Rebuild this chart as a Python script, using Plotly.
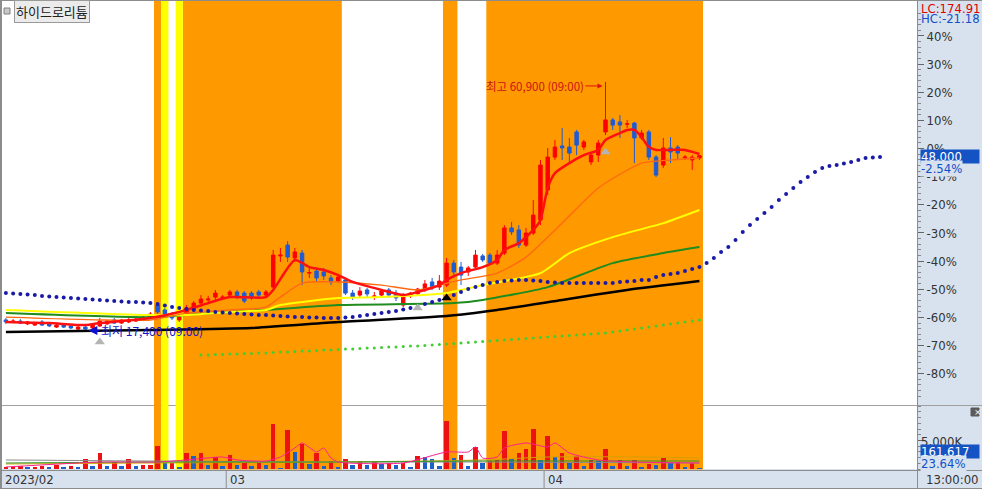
import plotly.graph_objects as go

W, H = 982, 489
def py(px):
    return 1 - px / H
def pxx(px):
    return px / W

BASE_PRICE = 49250  # price at 0%

# ---------------- data ----------------
bar_idx = list(range(97))
open_ = [19250,18900,19050,18550,18350,18900,18550,18000,18350,18200,17650,18000,17850,18200,18550,19250,18700,18900,19050,19250,
         19600,21850,21000,20100,19250,20100,21000,22200,22750,23250,23100,23600,24150,23950,23950,24150,23600,25000,30450,32350,
         30100,30950,27450,27800,27650,26600,26050,26250,23950,23600,24500,23250,23600,24500,23950,21850,23450,23800,24500,25900,
         25000,25350,29200,28500,27650,28500,30450,30600,29200,30950,35350,35000,32350,34450,36750,42000,47750,49700,49500,52150,
         49500,46900,48100,52150,54250,53900,53550,53700,51100,52150,47750,46350,49350,49500,47600,47250,47600]
high = [19600,19400,19400,19050,18900,19250,18900,18550,18700,18350,18200,18200,18350,19600,19250,19600,19400,19950,19600,19950,
        20650,22200,21350,20650,20100,21850,22550,23600,23450,24500,23600,24500,24500,24300,24300,24500,24500,31500,31850,33050,
        31850,31500,28350,28350,28350,27100,27300,26600,24500,25000,24850,24150,24650,24850,24500,23950,24150,24850,26250,26600,
        27100,30100,29750,29400,28700,31500,30800,30950,31500,35850,36400,35850,35350,40250,47250,49350,50750,52850,51100,52500,
        50750,48450,50750,60900,54600,55100,54250,53900,52500,52500,48100,51100,51250,49850,48100,48100,48100]
low = [18550,18700,18550,18350,18200,18200,18000,17850,17850,17650,17500,17400,17650,18000,18350,18550,18550,18700,18900,19050,
       19400,20300,19750,19250,18900,19950,20650,21500,22400,22750,22900,23450,22900,22200,22750,23250,23450,24650,29400,29400,
       29400,25350,26600,25900,26250,25350,25700,23600,22750,23250,23250,22750,23250,23100,22550,21500,23100,23450,24150,24500,
       24500,25000,26600,25350,26950,28350,29400,28850,28850,30600,34100,31850,32000,34100,35850,41100,47250,47250,46900,48100,
       49000,46350,46900,51600,52500,51100,52850,46700,50750,47250,44250,45850,46700,47250,47250,45500,47250]
close = [18900,19050,18700,18900,18700,18350,18200,18350,18000,17850,18000,17650,18350,19050,19050,18700,19250,19250,19400,19750,
         20300,20650,20100,19600,19750,21350,22200,22900,22900,23950,23250,24150,23250,22550,23100,23600,24150,30600,30600,30250,
         31150,27650,27550,26600,26950,25900,26750,23950,23250,24300,23800,23450,24300,23600,23100,23600,23950,24650,25550,24850,
         26050,29200,27650,27100,28350,30600,29750,29200,30600,35350,34650,32350,34450,37600,46350,47750,49500,49350,48450,49850,
         50400,48100,50200,54250,53350,53350,53550,51100,51950,47750,44600,49350,48650,48450,47750,47750,48000]

volume_k = [350,350,520,350,350,520,350,700,350,520,350,1750,520,2800,520,1220,520,1750,520,700,
            700,4020,1050,1050,350,2800,2280,2800,700,2100,520,2450,700,1050,520,1050,700,7880,175,6830,
            2980,4380,880,2800,520,1400,350,1750,700,1400,700,1220,880,1050,700,1050,350,2280,2100,1750,
            520,8400,1920,2450,520,3850,1050,1400,1580,6650,1750,2800,3500,7000,1580,5780,2100,2800,1050,2280,
            520,1580,1400,3500,520,1580,520,1580,350,880,700,1920,1050,1220,350,1050,162]

# moving-average style lines (bar index, price)
red_x = [0,6,11,13,16,20,24,28,31,36,37,40,42,44,46,48,52,55,57,60,61,63,66,68,69,71,73,74,75,76,78,80,82,83,85,86,87,88,89,90,92,94,96]
red_y = [18900,18700,18350,18700,19050,19600,20650,22200,23250,23250,24500,29750,28500,28000,27100,25900,24500,23600,24150,25350,
         26250,27450,28500,29750,31500,32700,35000,36750,42350,44950,46700,48100,49000,50750,51950,52500,52500,51250,49500,49000,
         49000,49000,48300]
orange_x = [0,13,20,25,31,36,38,41,46,52,57,60,63,68,72,77,82,88,92,96]
orange_y = [19750,19250,19250,20450,21000,21500,23250,25700,25900,25350,24500,25350,26250,27450,30250,36200,42350,46700,47250,47600]
yellow_x = [0,20,25,31,36,38,46,52,61,63,66,74,78,84,91,96]
yellow_y = [21000,20100,20100,20650,21000,21850,23100,23250,23950,24500,25350,27450,30950,33750,36200,38500]
green_x = [0,20,31,36,46,62,66,75,84,91,96]
green_y = [20450,19750,20650,21000,21850,22200,22750,25000,29200,30950,32000]
black_x = [0,20,34,46,61,68,77,86,96]
black_y = [17150,17500,17850,18900,19950,21000,22750,24500,26050]

# forward-shifted dotted line (bar index 0..121)
blue_dot_y = [23970,23880,23790,23700,23620,23440,23350,23270,23180,23090,23000,22920,22830,22740,22650,22570,22480,22390,22390,22300,
              22220,22040,21780,21520,21340,21170,20990,20900,20820,20640,20550,20470,20380,20290,20200,20120,20120,20030,19940,19850,
              19770,19770,19680,19680,19590,19590,19590,19680,19770,19940,20120,20290,20470,20640,20820,21080,21340,21520,22040,22390,
              22740,23090,23620,24140,24670,25020,25370,25720,25890,26070,26150,26240,26240,26150,26070,25890,25800,25720,25720,25720,
              25720,25720,25720,25720,25720,25890,25980,26070,26240,26240,26770,27120,27290,27470,27820,28170,28520,29220,30090,31140,
              32020,33240,34640,35870,36920,37970,39020,40240,41290,42340,43390,44270,45140,45840,46190,46370,46630,46890,47240,47590,
              47680,47770]
# light green dotted line (bar index 27..96)
green_dot_start = 27
green_dot_y = [13120,13120,13200,13200,13290,13290,13380,13380,13470,13470,13550,13640,13640,13730,13820,13820,13900,13990,13990,14080,
               14170,14170,14250,14340,14340,14430,14520,14520,14600,14690,14690,14780,14870,14950,15040,15130,15220,15300,15390,15480,
               15570,15650,15740,15830,15920,16000,16090,16180,16270,16350,16440,16530,16620,16700,16790,16880,16970,17140,17320,17490,
               17670,17840,18020,18190,18370,18540,18720,18890,19070,19240]

# volume average lines (bar index, thousand shares)
pink_x = [0,13,21,25,30,32,36,38,40,41,43,44,45,46,55,61,64,65,66,68,69,72,75,76,78,82,87,96]
pink_v = [350,1220,1220,1580,2100,1580,1400,2100,3680,4550,2980,3680,1920,1220,1050,2980,2980,3850,1920,2100,3680,4550,3850,4550,2800,1580,1220,1050]
gray_vx = [0,20,46,66,96]
gray_v = [1580,1400,1220,1220,1050]
gold_vx = [0,20,46,66,75,88,96]
gold_v = [880,1050,1220,1580,2100,2100,1920]
grn_vx = [0,20,46,66,96]
grn_v = [1050,1220,1220,1400,1400]

# highlighted periods (bar index ranges)
orange_bands = [(20.5, 21.5), (24.5, 46.5), (60.5, 62.5), (66.5, 96.5)]
yellow_bands = [(21.5, 22.5), (23.5, 24.5)]

# signal markers
gray_sig_x = [13, 57, 83]
gray_sig_y = [15400, 21350, 48650]
black_sig_x = [61]
black_sig_y = [23100]

pct_ticks = [40, 30, 20, 10, 0, -10, -20, -30, -40, -50, -60, -70, -80]
month_labels = ["2023/02", "03", "04"]
month_starts = [None, 30.5, 74.5]

# ---------------- figure ----------------
NARROW = "Liberation Sans Narrow, Arial Narrow, DejaVu Sans Condensed, sans-serif"
KR = "Noto Sans CJK KR, sans-serif"
RED = "#ff0000"
BLUE = "#1f5bd5"

fig = go.Figure()

fig.add_trace(go.Candlestick(
    x=bar_idx, open=open_, high=high, low=low, close=close,
    increasing=dict(line=dict(color=RED, width=1), fillcolor=RED),
    decreasing=dict(line=dict(color=BLUE, width=1), fillcolor=BLUE),
    whiskerwidth=0, showlegend=False, hoverinfo="skip", xaxis="x", yaxis="y"))

def line(xs, ys, color, width, yaxis="y"):
    fig.add_trace(go.Scatter(x=xs, y=ys, mode="lines", line=dict(color=color, width=width, shape="spline", smoothing=0.6),
                             showlegend=False, hoverinfo="skip", xaxis="x", yaxis=yaxis))

line(black_x, black_y, "#000000", 2.5)
line(green_x, green_y, "#1e8c1e", 2)
line(yellow_x, yellow_y, "#ffff00", 2)
line(orange_x, orange_y, "#ff6a10", 1.4)
line(red_x, red_y, "#ff1010", 2.5)

fig.add_trace(go.Scatter(x=list(range(len(blue_dot_y))), y=blue_dot_y, mode="markers",
                         marker=dict(color="#1a1aa8", size=4), showlegend=False, hoverinfo="skip"))
fig.add_trace(go.Scatter(x=list(range(green_dot_start, green_dot_start + len(green_dot_y))), y=green_dot_y,
                         mode="markers", marker=dict(color="#44cc33", size=3), showlegend=False, hoverinfo="skip"))

fig.add_trace(go.Scatter(x=gray_sig_x, y=gray_sig_y, mode="markers",
                         marker=dict(symbol="triangle-up", size=9, color="#b4b4b4"), showlegend=False, hoverinfo="skip"))
fig.add_trace(go.Scatter(x=black_sig_x, y=black_sig_y, mode="markers",
                         marker=dict(symbol="triangle-up", size=9, color="#000000"), showlegend=False, hoverinfo="skip"))

# volume
vol_colors = []
for i, v in enumerate(volume_k):
    up = i == 0 or v >= volume_k[i - 1]
    vol_colors.append("#ee1111" if up else "#1f5fc8")
fig.add_trace(go.Bar(x=bar_idx, y=volume_k, marker=dict(color=vol_colors, line=dict(width=0)), width=0.62,
                     showlegend=False, hoverinfo="skip", xaxis="x", yaxis="y2"))
line(gray_vx, gray_v, "#8a8a8a", 1, "y2")
line(gold_vx, gold_v, "#d2a000", 1, "y2")
line(grn_vx, grn_v, "#2e9a2e", 1, "y2")
line(pink_x, pink_v, "#ff2090", 1, "y2")

# ---------------- layout ----------------
shapes = []
shapes.append(dict(type="line", xref="paper", yref="paper", x0=0, x1=pxx(917), y0=py(405.5), y1=py(405.5),
                   line=dict(color="#a0a0a0", width=1), layer="below"))
for a, b in orange_bands:
    shapes.append(dict(type="rect", xref="x", yref="paper", x0=a, x1=b, y0=py(469.5), y1=py(1),
                       fillcolor="#ff9900", line=dict(width=0), layer="below"))
for a, b in yellow_bands:
    shapes.append(dict(type="rect", xref="x", yref="paper", x0=a, x1=b, y0=py(469.5), y1=py(1),
                       fillcolor="#ffff00", line=dict(width=0), layer="below"))
gray = "#8c8c8c"
shapes += [
    dict(type="line", xref="paper", yref="paper", x0=0, x1=1, y0=py(0.5), y1=py(0.5), line=dict(color=gray, width=1)),
    dict(type="line", xref="paper", yref="paper", x0=pxx(1), x1=pxx(1), y0=py(489), y1=py(0), line=dict(color=gray, width=2)),
    dict(type="line", xref="paper", yref="paper", x0=pxx(917), x1=1, y0=py(405.5), y1=py(405.5), line=dict(color="#a0a0a0", width=1)),
    dict(type="line", xref="paper", yref="paper", x0=0, x1=1, y0=py(470.5), y1=py(470.5), line=dict(color=gray, width=1)),
    dict(type="line", xref="paper", yref="paper", x0=0, x1=1, y0=py(488.5), y1=py(488.5), line=dict(color=gray, width=1)),
    dict(type="line", xref="paper", yref="paper", x0=pxx(917.5), x1=pxx(917.5), y0=py(489), y1=py(0), line=dict(color=gray, width=1)),
    dict(type="rect", xref="paper", yref="paper", x0=pxx(4), x1=pxx(10), y0=py(14), y1=py(8),
         fillcolor="#c8c8c8", line=dict(color="#808080", width=1)),
    dict(type="rect", xref="paper", yref="paper", x0=pxx(971), x1=pxx(979), y0=py(416), y1=py(408),
         fillcolor="#5a5a5a", line=dict(color="#5a5a5a", width=1)),
]
for xs in month_starts:
    if xs is not None:
        shapes.append(dict(type="line", xref="x", yref="paper", x0=xs, x1=xs, y0=py(488), y1=py(471),
                           line=dict(color=gray, width=1)))

ann = []
def label(x_px, y_px, text, color, size=13, family=NARROW, **kw):
    d = dict(xref="paper", yref="paper", x=pxx(x_px), y=py(y_px), text=text, showarrow=False,
             xanchor="left", yanchor="middle", font=dict(family=family, size=size, color=color))
    d.update(kw)
    ann.append(d)

label(14, 11, "하이드로리튬", "#222222", size=13, family=KR, bgcolor="#ebebeb", bordercolor="#9a9a9a",
      borderwidth=1, borderpad=1)
label(919, 8, "LC:174.91", "#e00000")
label(919, 19, "HC:-21.18", "#1050c8")
label(920, 156.5, "48,000", "#ffffff", bgcolor="#1552c4", width=58, height=13, align="left", borderpad=0)
label(920, 168, "-2.54%", "#1050c8", bgcolor="#d8e2ee", borderpad=0)
label(919, 441, "5,000K", "#333333")
label(920, 451.5, "161,617", "#ffffff", bgcolor="#1552c4", width=58, height=13, align="left", borderpad=0)
label(920, 463.5, "23.64%", "#1050c8", bgcolor="#d8e2ee", borderpad=0)
label(924, 479.5, "13:00:00", "#333333")
label(972, 412, "×", "#ffffff", size=9, family="DejaVu Sans, sans-serif")

for text, xs in zip(month_labels, month_starts):
    if xs is None:
        label(3, 479.5, text, "#333333")
    else:
        ann.append(dict(xref="x", yref="paper", x=xs, y=py(479.5), text=text, showarrow=False, xanchor="left",
                        yanchor="middle", xshift=2, font=dict(family=NARROW, size=13, color="#333333")))

ann.append(dict(xref="x", yref="y", x=83, y=max(high), ax=-20, ay=0, axref="pixel", ayref="pixel", yshift=-4,
                text="최고 60,900 (09:00)", showarrow=True, arrowhead=2, arrowsize=1, arrowwidth=1,
                arrowcolor="#e01010", xanchor="right", yanchor="middle", standoff=3,
                font=dict(family=KR, size=11.5, color="#c81414")))
ann.append(dict(xref="x", yref="y", x=11, y=min(low), ax=14, ay=0, axref="pixel", ayref="pixel",
                text="최저 17,400 (09:00)", showarrow=True, arrowhead=2, arrowsize=1.2, arrowwidth=1.5,
                arrowcolor="#1010d0", xanchor="left", yanchor="middle", standoff=3,
                font=dict(family=KR, size=12, color="#1414c8")))

tickvals = [BASE_PRICE * (1 + p / 100) for p in pct_ticks]
ticktext = [f"{p}%" for p in pct_ticks]
minorvals = [BASE_PRICE * (1 + p / 100) for p in range(-90, 50, 2) if p % 10 != 0]

fig.update_layout(
    width=W, height=H, autosize=False,
    margin=dict(l=0, r=0, t=0, b=0),
    paper_bgcolor="#d8e2ee", plot_bgcolor="#ffffff",
    showlegend=False, bargap=0, boxgap=0.32,
    shapes=shapes, annotations=ann,
    xaxis=dict(domain=[0, pxx(917)], range=[-0.817, 126.12], showgrid=False, zeroline=False,
               showticklabels=False, showline=False, ticks="", rangeslider=dict(visible=False), fixedrange=True),
    yaxis=dict(domain=[py(405), py(1)], range=[4365, 75065], side="right", anchor="x",
               showgrid=False, zeroline=False, showline=True, linecolor=gray, linewidth=1,
               tickmode="array", tickvals=tickvals, ticktext=ticktext, ticks="outside", ticklen=6,
               tickcolor="#666666", tickfont=dict(family=NARROW, size=13, color="#333333"),
               minor=dict(tickmode="array", tickvals=minorvals, ticks="outside", ticklen=3, tickcolor="#888888"),
               fixedrange=True),
    yaxis2=dict(domain=[py(469), py(406)], range=[0, 11025], side="right", anchor="x",
                showgrid=False, zeroline=False, showline=True, linecolor=gray, linewidth=1,
                tickmode="array", tickvals=[5000], ticktext=[""], ticks="outside", ticklen=6, tickcolor="#666666",
                minor=dict(dtick=1000, ticks="outside", ticklen=3, tickcolor="#888888"),
                fixedrange=True),
)

fig.write_html("out.html", config={"displayModeBar": False, "staticPlot": True},
               post_script="document.body.style.margin='0';document.body.style.overflow='hidden';")
